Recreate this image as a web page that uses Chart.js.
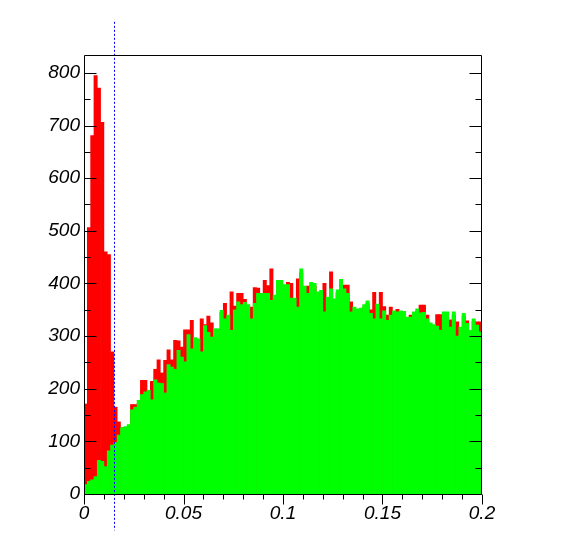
<!DOCTYPE html>
<html><head><meta charset="utf-8">
<script src="https://cdn.jsdelivr.net/npm/chart.js@4.4.1/dist/chart.umd.min.js"></script>
<style>html,body{margin:0;padding:0;background:#fff;}canvas{display:block;}</style>
</head><body>
<canvas id="c" width="568" height="548"></canvas>
<script>
// ---- axis definition ----
const xMin = 0, xMax = 0.2, nBins = 120;
const yMin = 0, yMax = 834;
const xTickValues = [0, 0.05, 0.1, 0.15, 0.2];
const xTickLabels = ['0', '0.05', '0.1', '0.15', '0.2'];
const yTickValues = [0, 100, 200, 300, 400, 500, 600, 700, 800];
const yTickLabels = ['0', '100', '200', '300', '400', '500', '600', '700', '800'];
const xMinorStep = 0.01, xMinorPerMajor = 5;
const yMinorStep = 50, yMinorPerMajor = 2;
const cutValue = 0.015;          // vertical dashed cut line
const cutSpan = [-69, 897];      // extent of the cut line in y units

// ---- series (counts per bin) ----
const redCounts = [
 171,506,681,795,771,706,460,455,270,165,
 137,126,120,128,170,170,172,216,216,190,
 214,237,255,230,254,274,255,292,291,279,
 312,312,330,290,288,333,322,338,325,308,
 310,345,362,335,384,357,381,381,370,352,
 355,392,391,375,406,396,428,372,400,398,
 390,402,400,368,409,420,390,395,398,396,
 380,382,400,371,422,365,382,402,397,397,
 365,350,348,350,355,362,350,383,357,383,
 356,340,355,344,351,343,340,332,340,341,
 348,359,359,340,320,318,341,341,340,330,
 331,340,327,312,338,329,305,328,327,327
];
const greenCounts = [
 18,24,27,33,64,62,52,82,93,98,
 112,126,128,132,160,165,178,189,194,197,
 179,217,211,210,192,246,241,237,273,260,
 251,303,276,297,295,270,320,307,298,314,
 314,349,333,340,311,350,365,360,364,360,
 333,362,381,381,381,381,368,378,406,406,
 398,398,372,372,355,428,395,381,402,400,
 384,387,346,374,390,371,388,408,390,381,
 346,355,352,353,360,367,343,333,361,333,
 348,330,340,348,346,348,347,336,336,346,
 352,344,345,333,325,322,319,311,346,346,
 317,346,300,317,343,324,311,333,321,308
];

const binWidth = (xMax - xMin) / nBins;
const binCenters = redCounts.map((_, i) => xMin + (i + 0.5) * binWidth);

const labelFont = {family: "'Liberation Sans', Arial, sans-serif", style: 'italic', size: 19};

const framePlugin = {
  id: 'rootFrame',
  afterDatasetsDraw(chart) {
    const ctx = chart.ctx, xs = chart.scales.x, ys = chart.scales.y;
    const px = Math.round(xs.getPixelForValue(cutValue)) + 0.5;
    ctx.save();
    ctx.strokeStyle = '#0000ff';
    ctx.lineWidth = 1;
    ctx.setLineDash([2, 2]);
    ctx.beginPath();
    ctx.moveTo(px, ys.getPixelForValue(cutSpan[1]));
    ctx.lineTo(px, ys.getPixelForValue(cutSpan[0]));
    ctx.stroke();
    ctx.restore();
  },
  afterDraw(chart) {
    const ctx = chart.ctx, xs = chart.scales.x, ys = chart.scales.y;
    const {left, right, top, bottom} = chart.chartArea;
    const L = left + 0.5, R = right - 0.5, T = top + 0.5, B = bottom + 0.5;
    ctx.save();
    ctx.strokeStyle = '#000';
    ctx.lineWidth = 1;
    ctx.beginPath();
    ctx.moveTo(L, T); ctx.lineTo(R, T); ctx.lineTo(R, B); ctx.lineTo(L, B); ctx.closePath();
    ctx.stroke();
    // y ticks, inward on both sides
    ctx.beginPath();
    const nY = Math.floor((yMax - yMin) / yMinorStep);
    for (let k = 0; k <= nY; k++) {
      const v = yMin + k * yMinorStep;
      const py = Math.round(ys.getPixelForValue(v)) + 0.5;
      const len = (k % yMinorPerMajor === 0) ? 12 : 6;
      ctx.moveTo(L, py); ctx.lineTo(L + len, py);
      ctx.moveTo(R, py); ctx.lineTo(R - len, py);
    }
    // x ticks, below the axis
    const nX = Math.round((xMax - xMin) / xMinorStep);
    for (let k = 0; k <= nX; k++) {
      const v = xMin + k * xMinorStep;
      const p = Math.round(xs.getPixelForValue(v)) + 0.5;
      const len = (k % xMinorPerMajor === 0) ? 10 : 5;
      ctx.moveTo(p, B); ctx.lineTo(p, B + len);
    }
    ctx.stroke();
    ctx.restore();
  }
};

new Chart(document.getElementById('c').getContext('2d'), {
  type: 'bar',
  data: {
    datasets: [
      {label: 'green', data: greenCounts.map((v, i) => ({x: binCenters[i], y: v})),
       backgroundColor: '#00ff00', borderWidth: 0, grouped: false, barPercentage: 1, categoryPercentage: 1},
      {label: 'red', data: redCounts.map((v, i) => ({x: binCenters[i], y: v})),
       backgroundColor: '#ff0000', borderWidth: 0, grouped: false, barPercentage: 1, categoryPercentage: 1}
    ]
  },
  options: {
    responsive: false,
    animation: false,
    devicePixelRatio: 1,
    layout: {padding: {top: 55, right: 86, left: 0, bottom: 0}},
    plugins: {legend: {display: false}, tooltip: {enabled: false}},
    scales: {
      x: {
        type: 'linear', min: xMin, max: xMax, offset: false,
        grid: {display: false, drawTicks: false}, border: {display: false},
        afterBuildTicks: s => { s.ticks = xTickValues.map(v => ({value: v})); },
        afterFit: s => { s.height = 54; },
        ticks: {callback: (v, i) => xTickLabels[i], font: labelFont, color: '#000',
                padding: 8, maxRotation: 0, autoSkip: false}
      },
      y: {
        type: 'linear', min: yMin, max: yMax,
        grid: {display: false, drawTicks: false}, border: {display: false},
        afterBuildTicks: s => { s.ticks = yTickValues.map(v => ({value: v})); },
        afterFit: s => { s.width = 84; },
        ticks: {callback: (v, i) => yTickLabels[i], font: labelFont, color: '#000',
                padding: 4, autoSkip: false}
      }
    }
  },
  plugins: [framePlugin]
});
</script>
</body></html>
